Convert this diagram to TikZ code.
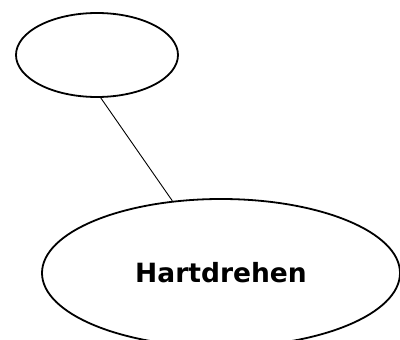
\documentclass[tikz,border=0pt]{standalone}
\usepackage{fontspec}
\setmainfont{DejaVu Sans}
\usetikzlibrary{shapes.geometric}
\tikzset{
  oval/.style={draw, ellipse, line width=1.8pt, inner sep=0pt},
}
\begin{document}
\begin{tikzpicture}[line join=round, line cap=round, x=1pt, y=1pt]
  % Rahmen der Zeichnung
  \useasboundingbox (0,0) rectangle (400,-340);

  % Die beiden Ellipsen
  \node[oval, minimum width=162pt, minimum height=84pt] (leer) at (97,-55) {};
  \node[oval, minimum width=358pt, minimum height=148pt] (hart) at (221,-273)
    {\fontsize{26.5}{30}\selectfont\bfseries Hartdrehen};

  % Verbindungslinie
  \draw[line width=0.9pt] (leer.275) -- (hart.124);
\end{tikzpicture}
\end{document}
